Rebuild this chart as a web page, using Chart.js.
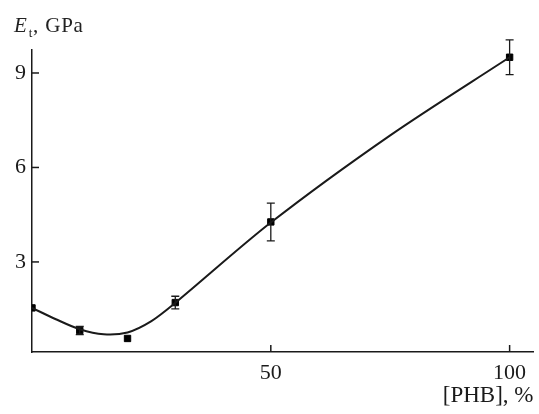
<!DOCTYPE html>
<html>
<head>
<meta charset="utf-8">
<script src="https://cdn.jsdelivr.net/npm/chart.js@4/dist/chart.umd.min.js"></script>
<style>
  body { margin: 0; background: #fff; }
  #wrap { position: relative; width: 539px; height: 414px; }
  #ylabel {
    position: absolute; left: 14px; top: 13px;
    font-family: "Liberation Serif", "DejaVu Serif", serif;
    font-size: 21px; color: #222; letter-spacing: 0.8px;
  }
  #ylabel sub { font-size: 13px; margin-left: 1px; }
</style>
</head>
<body>
<div id="wrap">
  <canvas id="chart" width="539" height="414"></canvas>
  <div id="ylabel"><i>E</i><sub>t</sub>, GPa</div>
</div>
<script>
// measured points (PHB content, modulus) and their error half-widths
const phb = [0, 10, 20, 30, 50, 100];
const modulus = [1.54, 0.82, 0.57, 1.71, 4.27, 9.5];
const errors = [0, 0.13, 0, 0.2, 0.6, 0.55];

// fitted curve
const curveX = [0, 5, 10, 15, 20, 25, 30, 50, 75, 100];
const curveY = [1.54, 1.18, 0.86, 0.7, 0.76, 1.12, 1.7, 4.25, 7.02, 9.5];

const xTicks = [50, 100];
const yTicks = [3, 6, 9];

const ink = "#1a1a1a";
const serif = "'Liberation Serif', 'DejaVu Serif', serif";

// error bars and inward tick marks
const extras = {
  id: "extras",
  afterDatasetsDraw(chart) {
    const ctx = chart.ctx;
    const xs = chart.scales.x, ys = chart.scales.y;
    ctx.save();
    ctx.strokeStyle = ink;
    ctx.lineWidth = 1.3;
    phb.forEach((x, i) => {
      if (!errors[i]) return;
      const px = xs.getPixelForValue(x);
      const top = ys.getPixelForValue(modulus[i] + errors[i]);
      const bot = ys.getPixelForValue(modulus[i] - errors[i]);
      ctx.beginPath();
      ctx.moveTo(px, top); ctx.lineTo(px, bot);
      ctx.moveTo(px - 4, top); ctx.lineTo(px + 4, top);
      ctx.moveTo(px - 4, bot); ctx.lineTo(px + 4, bot);
      ctx.stroke();
    });
    ctx.lineWidth = 1.5;
    const area = chart.chartArea;
    yTicks.forEach((v) => {
      const py = ys.getPixelForValue(v);
      ctx.beginPath();
      ctx.moveTo(area.left, py); ctx.lineTo(area.left + 7, py);
      ctx.stroke();
    });
    xTicks.forEach((v) => {
      const px = xs.getPixelForValue(v);
      ctx.beginPath();
      ctx.moveTo(px, area.bottom); ctx.lineTo(px, area.bottom - 7);
      ctx.stroke();
    });
    ctx.restore();
  }
};

new Chart(document.getElementById("chart"), {
  type: "scatter",
  data: {
    datasets: [
      {
        label: "fit",
        data: curveX.map((x, i) => ({ x: x, y: curveY[i] })),
        showLine: true,
        borderColor: ink,
        borderWidth: 2,
        pointRadius: 0,
        tension: 0.3
      },
      {
        label: "measured",
        data: phb.map((x, i) => ({ x: x, y: modulus[i] })),
        pointStyle: "rect",
        pointRadius: 4.5,
        backgroundColor: "#000",
        borderColor: "#000"
      }
    ]
  },
  options: {
    responsive: false,
    animation: false,
    layout: { padding: { top: 50, right: 2, left: 0, bottom: 0 } },
    plugins: { legend: { display: false }, tooltip: { enabled: false } },
    scales: {
      x: {
        type: "linear",
        min: 0,
        max: 105,
        afterBuildTicks: (s) => { s.ticks = xTicks.map((v) => ({ value: v })); },
        afterFit: (s) => { s.height = 62; },
        grid: { drawOnChartArea: false, drawTicks: false },
        border: { color: ink, width: 1.5 },
        ticks: { color: ink, padding: 8, font: { family: serif, size: 22 } },
        title: {
          display: true,
          text: "[PHB], %",
          align: "end",
          color: ink,
          padding: { top: 0 },
          font: { family: serif, size: 23 }
        }
      },
      y: {
        min: 0.14,
        max: 9.73,
        afterBuildTicks: (s) => { s.ticks = yTicks.map((v) => ({ value: v })); },
        afterFit: (s) => { s.width = 32; },
        grid: { drawOnChartArea: false, drawTicks: false },
        border: { color: ink, width: 1.5 },
        ticks: { color: ink, padding: 6, font: { family: serif, size: 22 } }
      }
    }
  },
  plugins: [extras]
});
</script>
</body>
</html>
